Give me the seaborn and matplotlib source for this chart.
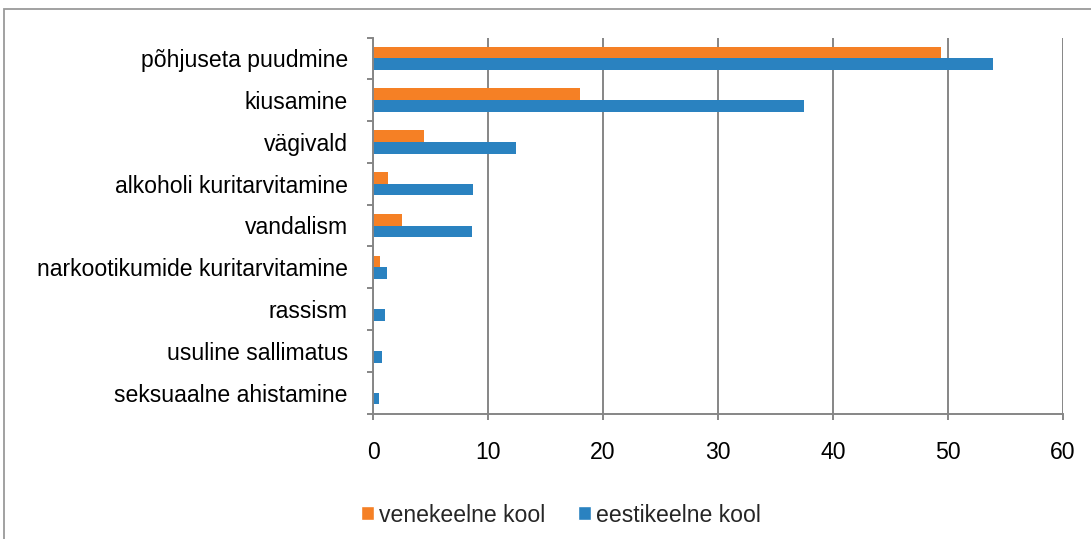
import matplotlib
matplotlib.use("Agg")
import matplotlib.pyplot as plt
import seaborn as sns
import pandas as pd
from matplotlib.patches import Rectangle, Patch
from matplotlib.ticker import FixedLocator

categories = ["põhjuseta puudmine", "kiusamine", "vägivald", "alkoholi kuritarvitamine",
              "vandalism", "narkootikumide kuritarvitamine", "rassism",
              "usuline sallimatus", "seksuaalne ahistamine"]
series_names = ["venekeelne kool", "eestikeelne kool"]
vene = [49.4, 18.0, 4.4, 1.3, 2.5, 0.6, 0.0, 0.0, 0.0]
eesti = [53.9, 37.5, 12.4, 8.7, 8.6, 1.2, 1.0, 0.8, 0.5]
x_ticks = [0, 10, 20, 30, 40, 50, 60]

colors = ["#F58025", "#2A82C0"]

rows = []
for c, v, e in zip(categories, vene, eesti):
    rows.append({"cat": c, "school": series_names[0], "val": v})
    rows.append({"cat": c, "school": series_names[1], "val": e})
df = pd.DataFrame(rows)

sns.set_style("white")
plt.rcParams["font.family"] = ["Liberation Sans", "DejaVu Sans"]

fig = plt.figure(figsize=(10.91, 5.39), dpi=100)
ax = fig.add_axes([373/1091, 1-413.5/539, 690/1091, (413.5-37.5)/539])

sns.barplot(data=df, y="cat", x="val", hue="school", order=categories,
            hue_order=series_names, palette=colors, orient="h", width=0.56,
            dodge=True, ax=ax, saturation=1, legend=False, linewidth=0, errorbar=None)

gc = "#868686"
ax.set_xlim(0, 60)
ax.set_ylim(8.5, -0.5)
ax.set_xticks(x_ticks)
ax.set_xticklabels([str(t) for t in x_ticks])
ax.xaxis.grid(True, color=gc, linewidth=1.4)
ax.set_axisbelow(True)
ax.set_xlabel("")
ax.set_ylabel("")
for s in ["top", "right"]:
    ax.spines[s].set_visible(False)
for s in ["left", "bottom"]:
    ax.spines[s].set_color(gc)
    ax.spines[s].set_linewidth(1.4)

ax.tick_params(axis="y", which="major", length=0, pad=18, labelsize=16.6, colors="black")
ax.yaxis.set_minor_locator(FixedLocator([i + 0.5 for i in range(-1, 9)]))
ax.tick_params(axis="y", which="minor", length=4.5, width=1.4, color=gc, left=True)
ax.tick_params(axis="x", which="major", length=4.5, width=1.4, color=gc, bottom=True,
               pad=15, labelsize=16.6, labelcolor="black")

handles = [Patch(facecolor=colors[0]), Patch(facecolor=colors[1])]
fig.legend(handles, series_names, loc="center", bbox_to_anchor=(561/1091, 1-515/539),
           ncol=2, frameon=False, fontsize=16.6, handlelength=0.55, handleheight=0.55,
           handletextpad=0.25, columnspacing=1.4)

fig.patches.append(Rectangle((4/1091, -0.1), 1.2, 1 - 9/539 + 0.1, transform=fig.transFigure,
                             fill=False, edgecolor="#9a9a9a", linewidth=1.3))

fig.savefig("out.png", dpi=100)
